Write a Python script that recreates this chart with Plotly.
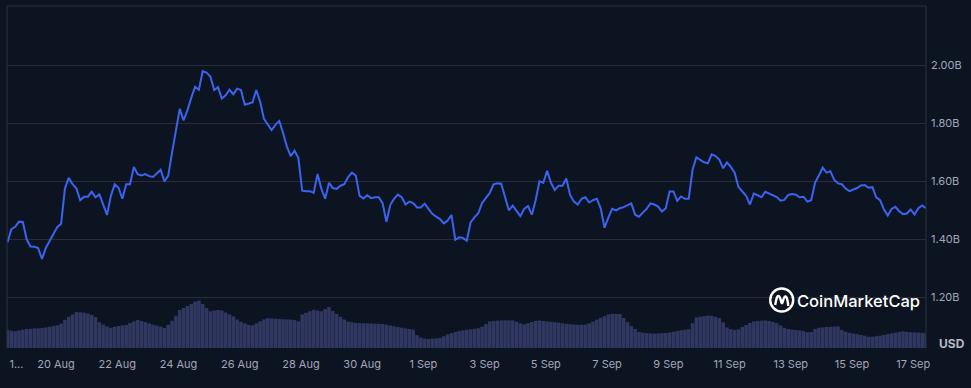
import pandas as pd
import plotly.graph_objects as go

# ---------------- data ----------------
start_time = "2023-08-18 10:00"
step = "3h"

market_cap_b = [
    1.39, 1.435, 1.443, 1.461, 1.46, 1.40, 1.375, 1.374, 1.37, 1.332,
    1.37, 1.395, 1.415, 1.442, 1.454, 1.576, 1.612, 1.59, 1.575, 1.535,
    1.547, 1.547, 1.564, 1.545, 1.555, 1.518, 1.484, 1.55, 1.59, 1.578,
    1.54, 1.59, 1.59, 1.65, 1.625, 1.62, 1.625, 1.618, 1.615, 1.627,
    1.64, 1.60, 1.62, 1.70, 1.78, 1.85, 1.81, 1.845, 1.888, 1.926,
    1.916, 1.98, 1.975, 1.962, 1.915, 1.925, 1.886, 1.897, 1.916, 1.90,
    1.92, 1.915, 1.864, 1.868, 1.872, 1.915, 1.875, 1.816, 1.797, 1.777,
    1.795, 1.808, 1.767, 1.72, 1.687, 1.706, 1.68, 1.568, 1.566, 1.566,
    1.56, 1.625, 1.575, 1.54, 1.595, 1.577, 1.574, 1.585, 1.59, 1.615,
    1.63, 1.62, 1.55, 1.541, 1.552, 1.542, 1.545, 1.545, 1.525, 1.46,
    1.518, 1.54, 1.554, 1.545, 1.52, 1.53, 1.525, 1.51, 1.51, 1.523,
    1.505, 1.488, 1.478, 1.47, 1.455, 1.465, 1.484, 1.398, 1.407, 1.405,
    1.395, 1.458, 1.476, 1.49, 1.525, 1.541, 1.56, 1.59, 1.593, 1.592,
    1.55, 1.50, 1.516, 1.50, 1.48, 1.505, 1.515, 1.485, 1.535, 1.60,
    1.595, 1.636, 1.595, 1.57, 1.585, 1.585, 1.61, 1.553, 1.53, 1.52,
    1.54, 1.545, 1.527, 1.535, 1.54, 1.507, 1.44, 1.475, 1.505, 1.50,
    1.507, 1.511, 1.517, 1.524, 1.485, 1.478, 1.492, 1.505, 1.524, 1.52,
    1.513, 1.496, 1.507, 1.565, 1.565, 1.533, 1.548, 1.54, 1.54, 1.64,
    1.683, 1.674, 1.666, 1.662, 1.693, 1.687, 1.675, 1.645, 1.665, 1.65,
    1.63, 1.58, 1.565, 1.55, 1.52, 1.558, 1.552, 1.545, 1.564, 1.558,
    1.552, 1.546, 1.533, 1.536, 1.553, 1.556, 1.554, 1.545, 1.547, 1.53,
    1.535, 1.595, 1.62, 1.647, 1.63, 1.635, 1.606, 1.593, 1.59, 1.575,
    1.566, 1.571, 1.577, 1.586, 1.587, 1.578, 1.58, 1.545, 1.535, 1.504,
    1.482, 1.505, 1.512, 1.497, 1.487, 1.489, 1.503, 1.486, 1.507, 1.517,
    1.507,
]

volume_m = [
    36.4, 34.6, 33.4, 35, 36.8, 38, 38.4, 39, 39.4, 39.8,
    41, 42.6, 44, 45.6, 48.8, 56.4, 62.4, 67, 71.8, 71.4,
    70.6, 69, 66, 61.8, 51.6, 46.8, 43, 40.4, 42.4, 44,
    45.2, 46, 50, 53.2, 56, 54, 51.8, 49.2, 46.8, 44.8,
    42.6, 40.2, 46.6, 54.4, 64.4, 76, 80, 84, 88, 92.6,
    94.8, 88, 80, 73.4, 74.8, 76, 74.8, 70.8, 67, 63.2,
    57, 52.2, 49, 46.2, 45.4, 49, 53.4, 57.2, 59.8, 59,
    58.6, 58.2, 57.6, 57.2, 56.8, 55.8, 53.4, 67, 70.4, 73.6,
    76.4, 74.8, 73.4, 77.8, 82, 74, 68.2, 62.4, 56.8, 52.8,
    51.6, 50.2, 49.8, 49.4, 49.2, 49, 48.6, 48.4, 48, 46.6,
    45, 43.4, 42, 40.6, 39.2, 38, 36.8, 25.6, 20.8, 18.8,
    18.2, 18.8, 19.4, 20, 23.6, 27.2, 30, 32, 33.6, 35,
    36.6, 37.4, 38.4, 39.4, 42.6, 48, 53, 54, 54.8, 55.2,
    55.2, 55.2, 55.2, 52.6, 49.2, 47.2, 49.8, 52, 54.2, 55,
    54, 53.2, 52.4, 51.6, 50.6, 49.4, 48.4, 47.4, 46.6, 46.6,
    46.6, 46.6, 49.2, 52.8, 56.8, 60.4, 63.8, 67.2, 68.4, 68.2,
    68, 60, 51.6, 44.2, 37.8, 32.2, 30.6, 29.8, 29.2, 28.8,
    29.2, 29.6, 30, 31.2, 32.6, 34.2, 35.6, 36.6, 37.6, 49.6,
    61.2, 62.8, 63.8, 64.8, 64.4, 62.4, 60.2, 51.4, 41.2, 37.6,
    36, 37.4, 42.2, 46.2, 50.2, 53.2, 54, 54.6, 55, 54,
    52, 50, 45.2, 40.4, 38, 36.8, 35.8, 35.2, 33.6, 31.4,
    32, 38, 40.4, 41.2, 42, 42.4, 42.8, 43.2, 36, 32.4,
    30.4, 28.8, 27.8, 26, 24.6, 22.6, 22.6, 23.6, 24.6, 26.2,
    27.8, 29.4, 30.8, 32, 33.2, 32.4, 31.6, 31, 30.8, 30.4,
    30,
]

x_tick_dates = [
    "2023-08-18 17:00", "2023-08-20", "2023-08-22", "2023-08-24", "2023-08-26",
    "2023-08-28", "2023-08-30", "2023-09-01", "2023-09-03", "2023-09-05",
    "2023-09-07", "2023-09-09", "2023-09-11", "2023-09-13", "2023-09-15",
    "2023-09-17",
]
x_tick_labels = [
    "1...", "20 Aug", "22 Aug", "24 Aug", "26 Aug", "28 Aug", "30 Aug",
    "1 Sep", "3 Sep", "5 Sep", "7 Sep", "9 Sep", "11 Sep", "13 Sep",
    "15 Sep", "17 Sep",
]
y_tick_values = [1.2, 1.4, 1.6, 1.8, 2.0]
y_tick_labels = ["1.20B", "1.40B", "1.60B", "1.80B", "2.00B"]
x_range = ["2023-08-18 09:35", "2023-09-17 10:00"]
y_range = [1.025, 2.205]
volume_range = [0, 684]

# ---------------- styles ----------------
BG = "#0d1421"
GRID = "#272d3a"
FRAME = "#2c3241"
LINE = "#3c63f0"
VOL = "rgba(52,60,104,0.9)"
TICK = "#a1a7bb"
FONT = "Inter"

times = pd.date_range(start_time, periods=len(market_cap_b), freq=step)

fig = go.Figure()
fig.add_trace(go.Bar(
    x=times, y=volume_m, yaxis="y2",
    marker=dict(color=VOL, line=dict(width=0)),
    hoverinfo="skip", showlegend=False,
))
fig.add_trace(go.Scatter(
    x=times, y=market_cap_b, mode="lines",
    line=dict(color=LINE, width=2), showlegend=False,
))

shapes = [
    dict(type="line", xref="paper", yref="paper", x0=0, x1=1, y0=1, y1=1,
         line=dict(color=FRAME, width=1)),
    dict(type="line", xref="paper", yref="paper", x0=0, x1=0, y0=0, y1=1,
         line=dict(color=FRAME, width=1)),
    dict(type="line", xref="paper", yref="paper", x0=1, x1=1, y0=0, y1=1,
         line=dict(color=FRAME, width=1)),
    # CoinMarketCap logo: ring + wave
    dict(type="circle", xref="paper", yref="paper", xsizemode="pixel", ysizemode="pixel",
         xanchor=0.843, yanchor=0.1404, x0=-11.5, x1=11.5, y0=-11.5, y1=11.5,
         line=dict(color="#ffffff", width=2.4)),
    dict(type="path", xref="paper", yref="paper", xsizemode="pixel", ysizemode="pixel",
         xanchor=0.843, yanchor=0.1404,
         path="M -6.5 -5 Q -5 5 -3 4 Q -1.5 3 -0.5 -2 Q 0.5 -5 1.5 0 Q 3 5 4.5 3 Q 6 1 6.5 -6",
         line=dict(color="#ffffff", width=2.4)),
]

annotations = [
    dict(text="CoinMarketCap", xref="paper", yref="paper", x=0.9265, y=0.138,
         xanchor="center", yanchor="middle", showarrow=False,
         font=dict(family=FONT, size=16.5, color="#ffffff", weight=500)),
    dict(text="<b>USD</b>", xref="paper", yref="paper", x=1.0, y=0.012,
         xanchor="left", yanchor="middle", xshift=11, showarrow=False,
         font=dict(family=FONT, size=12, color="#b4b9c7")),
]

fig.update_layout(
    width=971, height=388, autosize=False,
    margin=dict(l=7, r=45, t=6, b=40),
    paper_bgcolor=BG, plot_bgcolor=BG,
    bargap=0.08,
    hovermode=False,
    font=dict(family=FONT, color=TICK, size=11),
    xaxis=dict(
        type="date", range=x_range, tickvals=x_tick_dates, ticktext=x_tick_labels,
        showgrid=False, zeroline=False, showline=False, ticks="",
        tickfont=dict(family=FONT, size=11, color=TICK),
        ticklabelstandoff=8, fixedrange=True,
    ),
    yaxis=dict(
        side="right", range=y_range, tickvals=y_tick_values, ticktext=y_tick_labels,
        showgrid=True, gridcolor=GRID, gridwidth=1, zeroline=False, showline=False,
        ticks="", tickfont=dict(family=FONT, size=11, color=TICK),
        ticklabelstandoff=4, fixedrange=True,
    ),
    yaxis2=dict(overlaying="y", range=volume_range, visible=False, fixedrange=True),
    shapes=shapes,
    annotations=annotations,
)

fig.write_html("out.html", config={"displayModeBar": False},
               post_script="document.body.style.margin='0';")
